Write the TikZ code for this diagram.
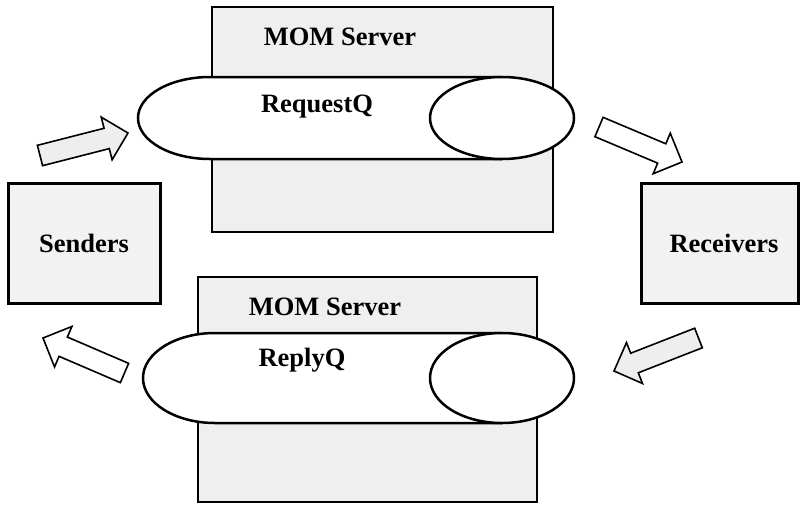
\documentclass[tikz,border=0pt]{standalone}
\usepackage{fontspec}
\setmainfont{Liberation Serif}
\usetikzlibrary{calc}
\definecolor{boxgray}{HTML}{F2F2F2}
\definecolor{servergray}{HTML}{EFEFEF}
\definecolor{arrowgray}{HTML}{EEEEEE}
\newcommand\blockarr[3]{%
  \draw[blockarrow,fill=#3]
    ($(#1)!10.5pt!90:(#2)$) --
    ($($(#2)!22pt!(#1)$)!10.5pt!-90:(#1)$) --
    ($($(#2)!22pt!(#1)$)!22pt!-90:(#1)$) --
    (#2) --
    ($($(#2)!22pt!(#1)$)!22pt!90:(#1)$) --
    ($($(#2)!22pt!(#1)$)!10.5pt!90:(#1)$) --
    ($(#1)!10.5pt!-90:(#2)$) -- cycle;}
\begin{document}
\begin{tikzpicture}[x=1pt,y=-1pt,
  lbl/.style={font=\fontsize{26.5}{32}\selectfont\bfseries, inner sep=0pt},
  endbox/.style={draw, line width=3pt, fill=boxgray, inner sep=0pt},
  serverbox/.style={draw, line width=2.5pt, fill=servergray, inner sep=0pt},
  queue/.style={draw, line width=2.5pt, fill=white},
  blockarrow/.style={draw, line width=1.6pt, line join=miter}]
\useasboundingbox (0,0) rectangle (800,504);
\fill[white] (0,0) rectangle (800,504);

% end boxes
\node[endbox, minimum width=152pt, minimum height=120pt] (senders) at (84,243) {};
\node[lbl] (senderst) at (84,243) {Senders};
\node[endbox, minimum width=157pt, minimum height=120pt] (receivers) at (719.5,243) {};
\node[lbl] (receiverst) at (724,243) {Receivers};

% top server
\node[serverbox, minimum width=341pt, minimum height=225pt] (server1) at (382.5,119.5) {};
\node[lbl] (server1t) at (340,37) {MOM Server};
\draw[queue] (502,77) -- (210,77) arc[start angle=270, end angle=90, x radius=72, y radius=41] -- (502,159);
\draw[queue] (502,118) ellipse[x radius=72, y radius=41];
\node[lbl] (requestq) at (317,107) {RequestQ};

% bottom server
\node[serverbox, minimum width=339pt, minimum height=225pt] (server2) at (367.5,389.5) {};
\node[lbl] (server2t) at (325,307) {MOM Server};
\draw[queue] (502,333) -- (215,333) arc[start angle=270, end angle=90, x radius=72, y radius=45] -- (502,423);
\draw[queue] (502,378) ellipse[x radius=72, y radius=45];
\node[lbl] (replyq) at (302,360) {ReplyQ};

% block arrows
\coordinate (a1s) at (40,155.5);  \coordinate (a1e) at (128,133);
\coordinate (a2s) at (599,127);   \coordinate (a2e) at (682,162);
\coordinate (a3s) at (124.5,373); \coordinate (a3e) at (43,338);
\coordinate (a4s) at (698.5,338); \coordinate (a4e) at (614,371);
\blockarr{a1s}{a1e}{arrowgray}
\blockarr{a2s}{a2e}{white}
\blockarr{a3s}{a3e}{white}
\blockarr{a4s}{a4e}{arrowgray}
\end{tikzpicture}
\end{document}
